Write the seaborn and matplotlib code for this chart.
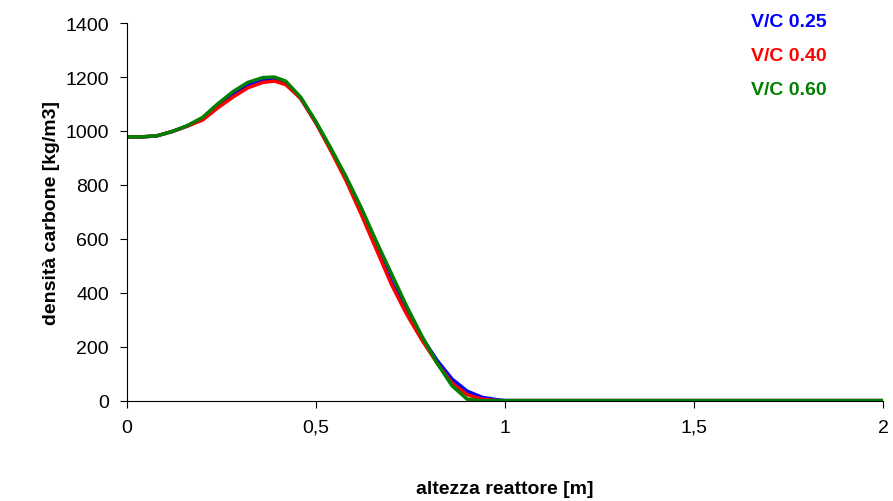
import matplotlib.pyplot as plt
import seaborn as sns
import pandas as pd
import numpy as np
from matplotlib.ticker import FuncFormatter

plt.switch_backend('Agg')

x_vals = [0, 0.04, 0.08, 0.12, 0.16, 0.2, 0.24, 0.28, 0.32, 0.36, 0.39, 0.42, 0.46, 0.5, 0.54, 0.58, 0.62, 0.66, 0.7, 0.74, 0.78, 0.82, 0.86, 0.9, 0.94, 0.98, 1.0, 1.2, 1.5, 2.0]
vc025 = [978, 978, 982, 998, 1018, 1045, 1090, 1135, 1170, 1190, 1195, 1180, 1120, 1030, 930, 820, 700, 570, 440, 330, 235, 150, 80, 35, 12, 3, 0, 0, 0, 0]
vc040 = [978, 978, 982, 998, 1018, 1040, 1085, 1125, 1160, 1180, 1185, 1172, 1120, 1030, 925, 815, 690, 560, 430, 320, 225, 140, 65, 22, 5, 0, 0, 0, 0, 0]
vc060 = [978, 978, 982, 998, 1020, 1050, 1100, 1145, 1180, 1198, 1200, 1185, 1125, 1035, 935, 830, 715, 590, 470, 350, 240, 140, 55, 5, 0, 0, 0, 0, 0, 0]

labels = ['V/C 0.25', 'V/C 0.40', 'V/C 0.60']
colors = ['#0000ff', '#ff0000', '#008000']

df = pd.DataFrame({'x': x_vals * 3,
                   'y': vc025 + vc040 + vc060,
                   'serie': sum([[l] * len(x_vals) for l in labels], [])})

sns.set_style('ticks')
plt.rcParams['font.family'] = ['Liberation Sans', 'DejaVu Sans']

fig, ax = plt.subplots(figsize=(8.93, 5.02), dpi=100)
sns.lineplot(data=df, x='x', y='y', hue='serie', palette=colors, ax=ax,
             linewidth=2.5, legend=False)

ax.set_xlim(0, 2)
ax.set_ylim(0, 1400)
ax.set_xticks([0, 0.5, 1, 1.5, 2])
ax.set_yticks(range(0, 1401, 200))
ax.xaxis.set_major_formatter(FuncFormatter(lambda v, p: ('%g' % v).replace('.', ',')))
ax.tick_params(labelsize=14, direction='out', length=5, colors='black', pad=8)
ax.set_xlabel('altezza reattore [m]', fontsize=14, fontweight='bold', labelpad=32, color='black')
ax.set_ylabel('densità carbone [kg/m3]', fontsize=14, fontweight='bold', color='black')
for s in ax.spines.values():
    s.set_color('black')
sns.despine(ax=ax)

for i, (l, c) in enumerate(zip(labels, colors)):
    ax.text(0.825, 1.004 - i * 0.09, l, transform=ax.transAxes, color=c,
            fontsize=14, fontweight='bold', ha='left', va='center')

plt.subplots_adjust(left=0.142, right=0.989, top=0.952, bottom=0.2)
plt.savefig('out.png', dpi=100)
